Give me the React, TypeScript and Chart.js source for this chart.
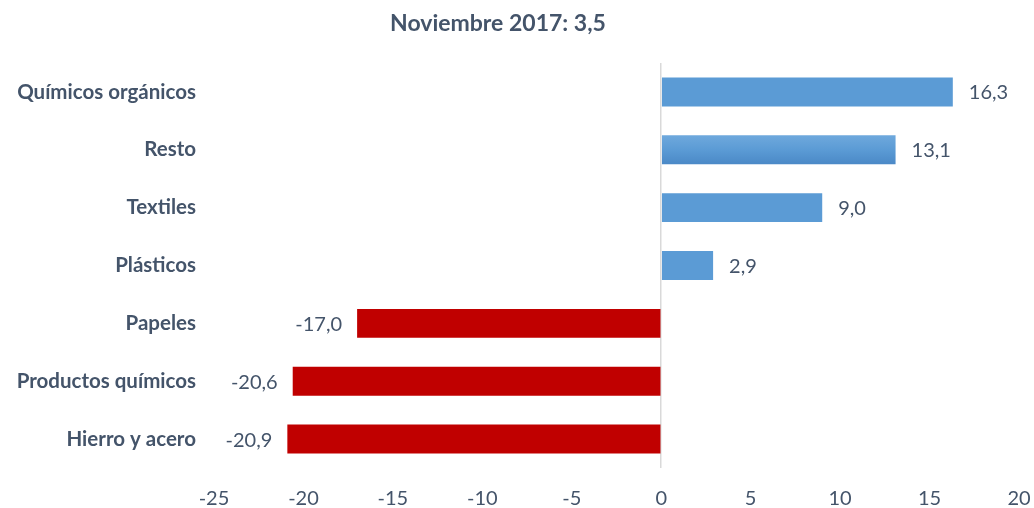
import React, { useEffect, useRef } from "react";
import { Chart, registerables } from "chart.js";

Chart.register(...registerables);

const categories = [
  "Químicos orgánicos",
  "Resto",
  "Textiles",
  "Plásticos",
  "Papeles",
  "Productos químicos",
  "Hierro y acero",
];
const values = [16.3, 13.1, 9.0, 2.9, -17.0, -20.6, -20.9];
const titleText = "Noviembre 2017: 3,5";
const xMin = -25;
const xMax = 20;
const xStep = 5;

const TEXT = "#44546A";
const BLUE = "#5B9BD5";
const RED = "#C00000";
const FONT = "Lato, 'Open Sans', sans-serif";

export default function App() {
  const ref = useRef<HTMLCanvasElement | null>(null);

  useEffect(() => {
    document.body.style.margin = "0";
    const canvas = ref.current!;
    const fmt = (v: number) => v.toFixed(1).replace(".", ",");

    const titlePlugin = {
      id: "customTitle",
      afterDraw(chart: any) {
        const ctx = chart.ctx;
        ctx.save();
        ctx.font = `bold 23px ${FONT}`;
        ctx.fillStyle = TEXT;
        ctx.textAlign = "center";
        ctx.textBaseline = "middle";
        ctx.fillText(titleText, 498, 24);
        ctx.restore();
      },
    };

    const labelPlugin = {
      id: "valueLabels",
      afterDatasetsDraw(chart: any) {
        const ctx = chart.ctx;
        const meta = chart.getDatasetMeta(0);
        ctx.save();
        ctx.font = `20px ${FONT}`;
        ctx.fillStyle = TEXT;
        ctx.textBaseline = "middle";
        meta.data.forEach((bar: any, i: number) => {
          const v = values[i];
          if (v >= 0) {
            ctx.textAlign = "left";
            ctx.fillText(fmt(v), bar.x + 16, bar.y + 1);
          } else {
            ctx.textAlign = "right";
            ctx.fillText(fmt(v), bar.x - 15, bar.y + 1);
          }
        });
        ctx.restore();
      },
    };

    const chart = new Chart(canvas, {
      type: "bar",
      data: {
        labels: categories,
        datasets: [
          {
            data: values,
            backgroundColor: (c: any) => {
              const v = values[c.dataIndex];
              if (v < 0) return RED;
              if (c.dataIndex === 1 && c.chart.scales && c.chart.scales.y) {
                const y = c.chart.scales.y.getPixelForValue(1);
                const g = c.chart.ctx.createLinearGradient(0, y - 15, 0, y + 15);
                g.addColorStop(0, "#6FA9DD");
                g.addColorStop(0.5, "#5B9BD5");
                g.addColorStop(1, "#4A88C6");
                return g;
              }
              return BLUE;
            },
            barPercentage: 0.5,
            categoryPercentage: 1,
          },
        ],
      },
      options: {
        indexAxis: "y",
        responsive: false,
        animation: false,
        layout: { padding: { top: 63, right: 15, left: 0, bottom: 0 } },
        plugins: {
          legend: { display: false },
          title: { display: false },
          tooltip: { enabled: false },
        },
        scales: {
          x: {
            min: xMin,
            max: xMax,
            ticks: {
              stepSize: xStep,
              color: TEXT,
              font: { family: FONT, size: 20 },
              padding: 19,
              maxRotation: 0,
            },
            grid: {
              drawTicks: false,
              color: (c: any) => (c.tick && c.tick.value === 0 ? "#D9D9D9" : "rgba(0,0,0,0)"),
              lineWidth: 1.5,
            },
            border: { display: false },
            afterFit: (s: any) => {
              s.height = 40;
              s.paddingLeft = 0;
              s.paddingRight = 0;
            },
          },
          y: {
            ticks: {
              color: TEXT,
              font: { family: FONT, size: 20.5, weight: "bold" },
              padding: 18,
            },
            grid: { display: false, drawTicks: false },
            border: { display: false },
            afterFit: (s: any) => {
              s.width = 214;
              s.paddingTop = 0;
              s.paddingBottom = 0;
            },
          },
        },
      },
      plugins: [titlePlugin, labelPlugin],
    } as any);

    return () => chart.destroy();
  }, []);

  return (
    <div style={{ width: 1034, height: 508 }}>
      <canvas ref={ref} width={1034} height={508} />
    </div>
  );
}
